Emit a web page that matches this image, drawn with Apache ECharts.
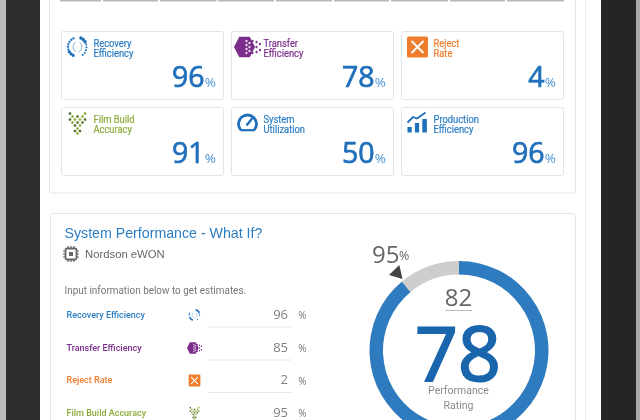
<!DOCTYPE html>
<html>
<head>
<meta charset="utf-8">
<style>html,body{margin:0;padding:0;background:#fff}#c{width:640px;height:420px;filter:blur(0.35px)}</style>
<script src="https://cdn.jsdelivr.net/npm/echarts@6/dist/echarts.min.js"></script>
</head>
<body>
<div id="c"></div>
<script>
var kpiLabels = [["Recovery","Efficiency"],["Transfer","Efficiency"],["Reject","Rate"],["Film Build","Accuracy"],["System","Utilization"],["Production","Efficiency"]];
var kpiValues = [96,78,4,91,50,96];
var kpiIcons = ["recovery","transfer","reject","film","gauge","prod"];
var whatIfLabels = ["Recovery Efficiency","Transfer Efficiency","Reject Rate","Film Build Accuracy"];
var whatIfValues = [96,85,2,95];
var whatIfIcons = ["recovery","transfer","reject","film"];
var ringSegments = [89,11];
var ratingCurrent = 78;
var ratingWhatIf = 82;
var targetPercent = 95;

var BLUE="#2b7dc3",PURPLE="#7b2d8b",ORANGE="#ef7d2c",GREEN="#8bab38",NUM="#1f6fbb",PCT="#4b93d1";
var kpiColors=[BLUE,PURPLE,ORANGE,GREEN,BLUE,BLUE];
var whatIfColors=[BLUE,PURPLE,ORANGE,GREEN];
var SEGOE='"Open Sans","Noto Sans",sans-serif', UI='Roboto,"Open Sans",sans-serif', ARIAL='"Liberation Sans",Arial,sans-serif';
var g=[];
function rect(x,y,w,h,fill,stroke,r,lw){g.push({type:'rect',silent:true,shape:{x:x,y:y,width:w,height:h,r:r||0},style:{fill:fill,stroke:stroke||null,lineWidth:lw||1}});}
function text(t,x,y,size,color,font,align,weight,lh,sx,sw){g.push({type:'text',silent:true,x:x,y:y,scaleX:sx||1,style:{text:t,x:0,y:0,fontSize:size,fontFamily:font||SEGOE,fontWeight:weight||'normal',fill:color,stroke:sw?color:null,lineWidth:sw||0,align:align||'left',verticalAlign:'middle',lineHeight:lh||Math.round(size*1.05)}});}
function dot(x,y,r,c,op){g.push({type:'circle',silent:true,shape:{cx:x,cy:y,r:r},style:{fill:c,opacity:op==null?1:op}});}
function poly(pts,c){g.push({type:'polygon',silent:true,shape:{points:pts},style:{fill:c}});}
function line(x1,y1,x2,y2,c,w){g.push({type:'line',silent:true,shape:{x1:x1,y1:y1,x2:x2,y2:y2},style:{stroke:c,lineWidth:w||1}});}
function icon(kind,cx,cy,s){
  if(kind==="recovery"){
    var a,i;
    for(i=0;i<9;i++){a=(115+i*16)*Math.PI/180;dot(cx+9.5*s*Math.cos(a),cy+9.5*s*Math.sin(a)*-1,(i>5?1.6:1.2)*s,i>5?"#1f6fbb":BLUE);}
    for(i=0;i<8;i++){a=(-70+i*18)*Math.PI/180;dot(cx+8.5*s*Math.cos(a)+0.5*s,cy+9.5*s*Math.sin(a),(i<3?1.7:1.1)*s,i<3?"#1f6fbb":BLUE);}
    g.push({type:'arc',silent:true,shape:{cx:cx+1*s,cy:cy,r:5.5*s,startAngle:2.0,endAngle:4.2},style:{fill:null,stroke:"#7fb4e0",lineWidth:1*s}});
    g.push({type:'arc',silent:true,shape:{cx:cx-1*s,cy:cy,r:5.5*s,startAngle:-1.0,endAngle:1.2},style:{fill:null,stroke:"#7fb4e0",lineWidth:1*s}});
  } else if(kind==="transfer"){
    var r=10.5*s,hx=cx-3*s,pts=[];
    for(var k=0;k<6;k++){var t=k*Math.PI/3;pts.push([hx+r*Math.cos(t),cy+1.14*r*Math.sin(t)]);}
    poly(pts,PURPLE);
    [[2,-6],[2,-2],[2,2],[2,6],[5,-4],[5,0],[5,4],[8,-6],[8,-2],[8,2],[8,6],[12,-5],[12,0],[12,5],[15.5,-3],[15.5,3]].forEach(function(p,i){
      dot(hx+p[0]*s,cy+p[1]*s,(i<7?1.2:1.15)*s,i<7?"#e9d9ee":PURPLE);
    });
  } else if(kind==="reject"){
    rect(cx-10.5*s,cy-10.5*s,21*s,21*s,ORANGE,null,1.5*s);
    line(cx-6*s,cy-6*s,cx+6*s,cy+6*s,"#fff",2*s);
    line(cx+6*s,cy-6*s,cx-6*s,cy+6*s,"#fff",2*s);
  } else if(kind==="film"){
    [[-7.5,-9.5,0],[7.5,-9.5,1],[-5,-6.5,1],[0,-6.5,0],[5,-6.5,1],[-7.5,-3.5,0],[-2.5,-3.5,1],[2.5,-3.5,1],[7.5,-3.5,0],[-5,-.5,1],[0,-.5,0],[5,-.5,0],[-2.5,2.5,0],[2.5,2.5,1],[0,5.5,1],[-2.5,8,0],[2.5,8,0],[0,10.5,1]].forEach(function(p){
      dot(cx+p[0]*s,cy+p[1]*s,1.35*s,p[2]?GREEN:"#55702c");
    });
  } else if(kind==="gauge"){
    g.push({type:'arc',silent:true,shape:{cx:cx,cy:cy+1,r:9*s,startAngle:Math.PI*0.8,endAngle:Math.PI*2.2},style:{fill:null,stroke:NUM,lineWidth:2.8*s,lineCap:'round'}});
    line(cx-7*s,cy+7.2,cx+7*s,cy+7.2,NUM,2.2*s);
    line(cx-1*s,cy+2.5,cx+5*s,cy-5,NUM,2.4*s);
  } else if(kind==="prod"){
    rect(cx-10*s,cy+4,4.2*s,5.5,NUM);
    rect(cx-2.6*s,cy+0,4.2*s,9.5,NUM);
    rect(cx+4.8*s,cy-4,4.6*s,13.5,NUM);
    g.push({type:'polyline',silent:true,shape:{points:[[cx-10,cy-0.5],[cx-4.5,cy-6],[cx-0.5,cy-4.5],[cx+8,cy-10.5]]},style:{stroke:NUM,fill:null,lineWidth:1.8}});
  } else if(kind==="chip"){
    rect(cx-5.5,cy-5.5,11,11,null,"#666",1.5,1.8);
    rect(cx-2,cy-2,4,4,"#666");
    [-3,0,3].forEach(function(d){
      line(cx+d,cy-8,cx+d,cy-6,"#666",1.2);line(cx+d,cy+6,cx+d,cy+8,"#666",1.2);
      line(cx-8,cy+d,cx-6,cy+d,"#666",1.2);line(cx+6,cy+d,cx+8,cy+d,"#666",1.2);
    });
  }
}
// device frame
rect(0,0,640,420,"#fff");
rect(0,0,6,420,"#bcbcbc");
rect(6,0,34,420,"#2e2e2e");
rect(601,0,35,420,"#252525");
rect(636,0,4,420,"#a8a8a8");
line(585.5,0,585.5,420,"#eeeff1",1);
// panels
rect(49.5,-20,526,213,"#fff","#e3e6ea",2);
rect(50.5,213.5,525,230,"#fff","#e3e6ea",2);
// top strip
[[60,101],[103,158],[160,216.5],[218,274],[276,332],[334,389],[391,448],[450,505],[507,564]].forEach(function(s){rect(s[0],-1,s[1]-s[0],2.4,"#b4b7bb");});
// KPI cards
var colX=[61.5,231.5,401.5], rowY=[31.5,107.5];
kpiValues.forEach(function(v,i){
  var c=i%3,row=Math.floor(i/3),x=colX[c],y=rowY[row];
  rect(x,y,162,68,"#fff","#e1e5ea",2,1);
  icon(kpiIcons[i],x+16,y+15.5,1);
  text(kpiLabels[i][0],x+32,y+11.5,10.4,kpiColors[i],UI,'left','normal',0,0.9,0.2);
  text(kpiLabels[i][1],x+32,y+21.5,10.4,kpiColors[i],UI,'left','normal',0,0.9,0.2);
  text("%",x+154.5,y+50.5,13.5,PCT,SEGOE,'right');
  text(String(v),x+143,y+44.5,28.5,NUM,SEGOE,'right','normal',0,1,0.7);
});
// what-if panel
text("System Performance - What If?",64.5,232.5,14.2,"#2b7dc3",ARIAL);
icon("chip",71,254,1);
text("Nordson eWON",85,254,11.3,"#666",ARIAL);
text("Input information below to get estimates.",64.5,290,10.4,"#777",UI,'left','normal',0,0.955);
var rowsY=[314,347,379.5,412];
whatIfValues.forEach(function(v,i){
  var y=rowsY[i];
  text(whatIfLabels[i],66.5,y,9.8,whatIfColors[i],UI,'left','500',0,0.92);
  icon(whatIfIcons[i],194.5,y+1,0.56);
  if(i<3) line(208,y+13,292,y+13,"#e6e8ea",1);
  text(String(v),288,y-0.5,13,"#808080",SEGOE,'right');
  text("%",302.5,y+1,10,"#777",SEGOE,'center');
});
// ring captions
text(String(targetPercent),372,253,24,"#666",SEGOE,'left','normal');
text("%",399,255.5,12.5,"#666",SEGOE,'left','normal');
poly([[402.5,279],[389,275],[399.3,265]],"#444");
text(String(ratingWhatIf),458.5,296,24,"#666",SEGOE,'center');
line(445,310.5,472,310.5,"#bbb",1);
text(String(ratingCurrent),458,352,75,"#1a66ad",SEGOE,'center','normal',54,1,2);
text("Performance",458.5,390.5,11.2,"#8a8a8a",UI,'center','normal',0,0.94);
text("Rating",458.5,405,11.2,"#8a8a8a",UI,'center','normal',0,0.94);

var chart=echarts.init(document.getElementById('c'),null,{renderer:'svg',width:640,height:420});
chart.setOption({
  animation:false,
  backgroundColor:'#fff',
  graphic:{elements:g},
  series:[{type:'pie',silent:true,center:[459,350.5],radius:[76,89.5],startAngle:90,clockwise:true,
    label:{show:false},labelLine:{show:false},
    data:[{name:'Rating',value:ringSegments[0],itemStyle:{color:'#2e7bbf'}},{name:'Remainder',value:ringSegments[1],itemStyle:{color:'#cdcdcd'}}]}]
});
</script>
</body>
</html>
